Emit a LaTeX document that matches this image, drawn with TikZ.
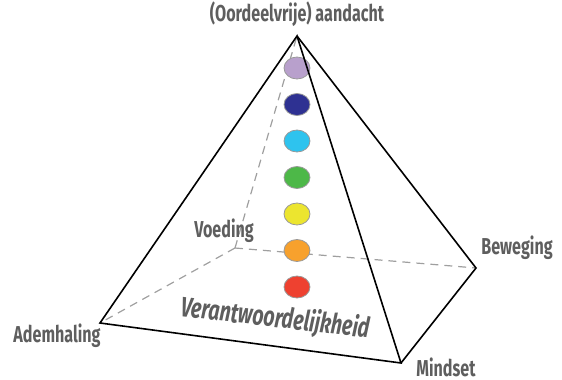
\documentclass[tikz,border=0pt]{standalone}
\usepackage{fontspec}
\setmainfont{Fira Sans}[FakeStretch=0.7]
\usepackage{tikz}
\usetikzlibrary{shapes.geometric}

\definecolor{labelgray}{HTML}{5E5E5E}
\definecolor{chakraviolet}{HTML}{B8A0CC}
\definecolor{chakraindigo}{HTML}{2E3192}
\definecolor{chakrablue}{HTML}{2EC3EE}
\definecolor{chakragreen}{HTML}{4DB848}
\definecolor{chakrayellow}{HTML}{ECE52F}
\definecolor{chakraorange}{HTML}{F7A12D}
\definecolor{chakrared}{HTML}{EE4130}

\begin{document}
\begin{tikzpicture}[x=0.5pt,y=-0.5pt,
	lbl/.style={text=labelgray,font=\bfseries\fontsize{11.5}{13}\selectfont},
	chakra/.style={ellipse,draw=gray!80,line width=0.4pt,minimum width=13pt,minimum height=11pt,inner sep=0pt},
	hidden/.style={gray!75,dashed,dash pattern=on 4pt off 3pt,line width=0.6pt},
	edge/.style={black,line width=0.8pt}]
\useasboundingbox (0,0) rectangle (562,380);
\coordinate (top) at (297,36);
\coordinate (adem) at (100,323);
\coordinate (mind) at (401,363);
\coordinate (bew) at (476,268);
\coordinate (voed) at (235,248);
% achterkant
\draw [hidden] (voed) -- (top);
\draw [hidden] (voed) -- (adem);
\draw [hidden] (voed) -- (bew);
% kleuren
\foreach \c [count=\i from 0] in {chakraviolet,chakraindigo,chakrablue,chakragreen,chakrayellow,chakraorange,chakrared}
	\node [chakra,fill=\c] (c\i) at (297,68+36.5*\i) {};
% voorkant
\draw [edge,line join=miter] (adem) -- (top) -- (mind) -- cycle;
\draw [edge,line join=miter] (top) -- (bew) -- (mind);
\node [lbl] (l1) at (297,14) {(Oordeelvrije) aandacht};
\node [lbl] (l2) at (224,231) {Voeding};
\node [lbl] (l3) at (517,248) {Beweging};
\node [lbl] (l4) at (446,367) {Mindset};
\node [lbl] (l5) at (57,336) {Ademhaling};
\node [lbl,font=\bfseries\itshape\fontsize{14}{16}\selectfont,rotate=-6.5] (l6) at (275,319) {Verantwoordelijkheid};
\end{tikzpicture}
\end{document}
